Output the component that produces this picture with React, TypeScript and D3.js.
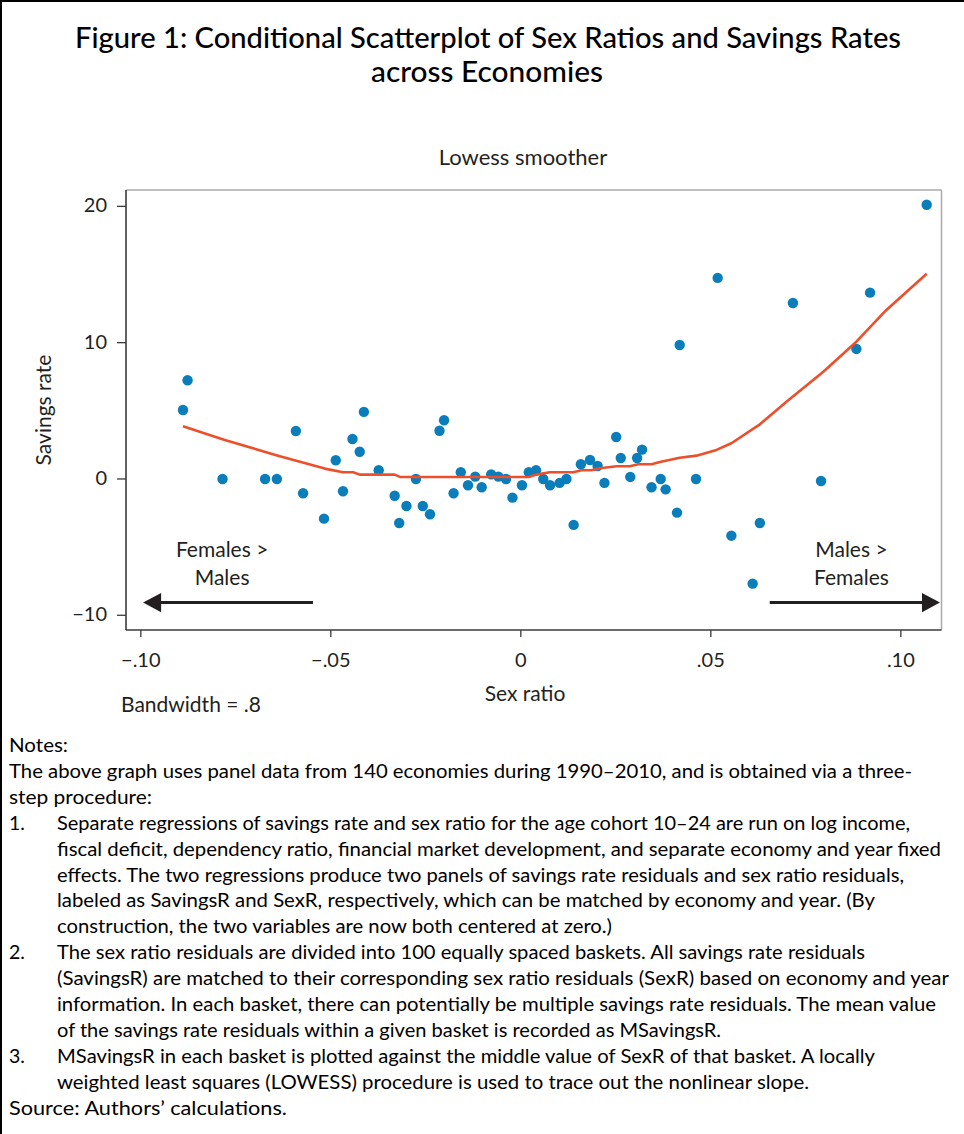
import React from 'react';
import * as d3 from 'd3';

const W = 964;
const H = 1134;

// Scatter data (sex ratio residual basket midpoint, mean savings rate residual)
const sexRatio = [
  -0.0877, -0.0889, -0.0785, -0.0673, -0.0642, -0.0592, -0.0573, -0.0518, -0.0487, -0.0468,
  -0.0443, -0.0424, -0.0413, -0.0374, -0.0332, -0.0320, -0.0301, -0.0276, -0.0258, -0.0239,
  -0.0214, -0.0202, -0.0177, -0.0158, -0.0139, -0.0120, -0.0103, -0.0078, -0.0059, -0.0039,
  -0.0022, 0.0003, 0.0021, 0.0040, 0.0059, 0.0077, 0.0102, 0.0120, 0.0139, 0.0158,
  0.0182, 0.0202, 0.0220, 0.0251, 0.0263, 0.0288, 0.0306, 0.0319, 0.0344, 0.0368,
  0.0381, 0.0411, 0.0418, 0.0461, 0.0518, 0.0554, 0.0610, 0.0629, 0.0716, 0.0790,
  0.0883, 0.0919, 0.1068,
];
const savingsRate = [
  7.24, 5.06, 0.0, 0.0, 0.0, 3.52, -1.05, -2.91, 1.37, -0.90,
  2.93, 2.0, 4.92, 0.64, -1.23, -3.23, -1.98, 0.0, -1.98, -2.59,
  3.54, 4.31, -1.05, 0.49, -0.46, 0.17, -0.61, 0.34, 0.17, 0.0,
  -1.37, -0.46, 0.49, 0.64, 0.0, -0.46, -0.29, 0.0, -3.37, 1.08,
  1.39, 0.95, -0.29, 3.08, 1.54, 0.15, 1.54, 2.15, -0.61, 0.0,
  -0.76, -2.47, 9.83, 0.0, 14.75, -4.16, -7.68, -3.23, 12.91, -0.15,
  9.54, 13.67, 20.12,
];

// Lowess smoother
const lowessX = [
  -0.0889, -0.0779, -0.0639, -0.0516, -0.0468, -0.0441, -0.0424, -0.0332, -0.0318, 0.0021,
  0.0041, 0.0076, 0.0138, 0.0160, 0.0186, 0.0208, 0.0252, 0.0287, 0.0309, 0.0344,
  0.0366, 0.0418, 0.0462, 0.0515, 0.0554, 0.0629, 0.0699, 0.0796, 0.0883, 0.0962, 0.1068,
];
const lowessY = [
  3.87, 2.86, 1.71, 0.76, 0.49, 0.49, 0.32, 0.32, 0.15, 0.15,
  0.32, 0.49, 0.49, 0.64, 0.64, 0.79, 0.93, 0.93, 1.08, 1.08,
  1.25, 1.56, 1.71, 2.13, 2.62, 4.01, 5.67, 7.87, 10.07, 12.4, 15.06,
];

const xTicks = [-0.1, -0.05, 0, 0.05, 0.1];
const xTickLabels = ['\u2212.10', '\u2212.05', '0', '.05', '.10'];
const yTicks = [-10, 0, 10, 20];
const yTickLabels = ['\u221210', '0', '10', '20'];

const titleLines = [
  'Figure 1: Conditional Scatterplot of Sex Ratios and Savings Rates',
  'across Economies',
];
const subtitle = 'Lowess smoother';
const xLabel = 'Sex ratio';
const yLabel = 'Savings rate';
const bandwidthNote = 'Bandwidth = .8';
const leftNote = ['Females >', 'Males'];
const rightNote = ['Males >', 'Females'];

// Notes: [bullet, text]
const notesLines: [string, string][] = [
  ['', 'Notes:'],
  ['', 'The above graph uses panel data from 140 economies during 1990\u20132010, and is obtained via a three-'],
  ['', 'step procedure:'],
  ['1.', 'Separate regressions of savings rate and sex ratio for the age cohort 10\u201324 are run on log income,'],
  ['-', 'fiscal deficit, dependency ratio, financial market development, and separate economy and year fixed'],
  ['-', 'effects. The two regressions produce two panels of savings rate residuals and sex ratio residuals,'],
  ['-', 'labeled as SavingsR and SexR, respectively, which can be matched by economy and year. (By'],
  ['-', 'construction, the two variables are now both centered at zero.)'],
  ['2.', 'The sex ratio residuals are divided into 100 equally spaced baskets. All savings rate residuals'],
  ['-', '(SavingsR) are matched to their corresponding sex ratio residuals (SexR) based on economy and year'],
  ['-', 'information. In each basket, there can potentially be multiple savings rate residuals. The mean value'],
  ['-', 'of the savings rate residuals within a given basket is recorded as MSavingsR.'],
  ['3.', 'MSavingsR in each basket is plotted against the middle value of SexR of that basket. A locally'],
  ['-', 'weighted least squares (LOWESS) procedure is used to trace out the nonlinear slope.'],
  ['', 'Source: Authors\u2019 calculations.'],
];
// right edge of each notes line (px)
const notesRight = [68, 912, 152, 910, 941, 904, 875, 612, 865, 949, 936, 721, 875, 809, 287];

const FONT = 'Lato, "Noto Sans", sans-serif';
const INK = '#231f20';

export default function App() {
  const plot = { left: 126, right: 941.5, top: 190, bottom: 630 };
  const x = d3.scaleLinear().domain([-0.1039, 0.1107]).range([plot.left, plot.right]);
  const y = d3.scaleLinear().domain([-11.08, 21.2]).range([plot.bottom, plot.top]);

  const line = d3
    .line<number>()
    .x((_, i) => x(lowessX[i]))
    .y((_, i) => y(lowessY[i]));

  const arrowY = y(-9.07);
  const leftArrow = { from: x(-0.0547), to: x(-0.0994) };
  const rightArrow = { from: x(0.0655), to: x(0.1103) };
  const headLen = 18;
  const headHalf = 9.7;

  return (
    <div style={{ position: 'absolute', left: 0, top: 0, width: W, height: H, background: '#fff' }}>
      <svg width={W} height={H} style={{ display: 'block' }} fontFamily={FONT}>
        <rect x={0} y={0} width={W} height={H} fill="#fff" />
        {/* page border */}
        <line x1={0} y1={1} x2={W} y2={1} stroke="#000" strokeWidth={2} />
        <line x1={1} y1={0} x2={1} y2={H} stroke="#000" strokeWidth={2} />

        {/* title */}
        <text x={75} y={48} fontSize={29} fontWeight={500} fill="#000" textLength={826} lengthAdjust="spacingAndGlyphs">
          {titleLines[0]}
        </text>
        <text x={371} y={82} fontSize={29} fontWeight={500} fill="#000" textLength={232} lengthAdjust="spacingAndGlyphs">
          {titleLines[1]}
        </text>

        {/* subtitle */}
        <text x={523} y={165} fontSize={22} fill={INK} textAnchor="middle">
          {subtitle}
        </text>

        {/* frame */}
        <line x1={plot.left} y1={plot.top} x2={plot.right} y2={plot.top} stroke="#aaa" strokeWidth={1.5} />
        <line x1={plot.right} y1={plot.top} x2={plot.right} y2={plot.bottom} stroke="#aaa" strokeWidth={1.5} />
        <line x1={plot.left} y1={plot.top} x2={plot.left} y2={plot.bottom} stroke="#3a3a3a" strokeWidth={1.6} />
        <line x1={plot.left} y1={plot.bottom} x2={plot.right} y2={plot.bottom} stroke="#3a3a3a" strokeWidth={1.6} />

        {/* y axis ticks */}
        {yTicks.map((t, i) => (
          <g key={'y' + t}>
            <line x1={plot.left - 9} x2={plot.left} y1={y(t)} y2={y(t)} stroke="#3a3a3a" strokeWidth={1.3} />
            <text x={107} y={y(t) + 6} fontSize={20} fill={INK} textAnchor="end">
              {yTickLabels[i]}
            </text>
          </g>
        ))}
        {/* x axis ticks */}
        {xTicks.map((t, i) => (
          <g key={'x' + t}>
            <line x1={x(t)} x2={x(t)} y1={plot.bottom} y2={plot.bottom + 7} stroke="#3a3a3a" strokeWidth={1.3} />
            <text x={x(t)} y={667} fontSize={20} fill={INK} textAnchor="middle">
              {xTickLabels[i]}
            </text>
          </g>
        ))}

        {/* axis titles */}
        <text
          transform={`translate(51, 410) rotate(-90)`}
          fontSize={21}
          fill={INK}
          textAnchor="middle"
        >
          {yLabel}
        </text>
        <text x={525} y={701} fontSize={21} fill={INK} textAnchor="middle">
          {xLabel}
        </text>
        <text x={121} y={712} fontSize={21} fill={INK}>
          {bandwidthNote}
        </text>

        {/* points */}
        {sexRatio.map((v, i) => (
          <circle key={i} cx={x(v)} cy={y(savingsRate[i])} r={5.2} fill="#0a7dbb" />
        ))}

        {/* lowess line */}
        <path d={line(lowessX) || ''} fill="none" stroke="#ee4f2b" strokeWidth={2.6} strokeLinejoin="round" />

        {/* annotation arrows */}
        <line x1={leftArrow.from} x2={leftArrow.to + headLen - 1} y1={arrowY} y2={arrowY} stroke={INK} strokeWidth={3} />
        <path
          d={`M${leftArrow.to},${arrowY} L${leftArrow.to + headLen},${arrowY - headHalf} L${leftArrow.to + headLen},${arrowY + headHalf} Z`}
          fill={INK}
        />
        <line x1={rightArrow.from} x2={rightArrow.to - headLen + 1} y1={arrowY} y2={arrowY} stroke={INK} strokeWidth={3} />
        <path
          d={`M${rightArrow.to},${arrowY} L${rightArrow.to - headLen},${arrowY - headHalf} L${rightArrow.to - headLen},${arrowY + headHalf} Z`}
          fill={INK}
        />
        <text x={x(-0.0786)} y={y(-5.72)} fontSize={21} fill={INK} textAnchor="middle">
          {leftNote[0]}
        </text>
        <text x={x(-0.0786)} y={y(-7.78)} fontSize={21} fill={INK} textAnchor="middle">
          {leftNote[1]}
        </text>
        <text x={x(0.0870)} y={y(-5.72)} fontSize={21} fill={INK} textAnchor="middle">
          {rightNote[0]}
        </text>
        <text x={x(0.0870)} y={y(-7.78)} fontSize={21} fill={INK} textAnchor="middle">
          {rightNote[1]}
        </text>

        {/* notes */}
        {notesLines.map(([bullet, txt], i) => {
          const baseY = 752 + i * 25.9;
          const indented = bullet !== '';
          const tx = indented ? 57 : 9;
          return (
            <g key={'n' + i}>
              {bullet && bullet !== '-' ? (
                <text x={9} y={baseY} fontSize={19.5} fill="#000">
                  {bullet}
                </text>
              ) : null}
              <text
                x={tx}
                y={baseY}
                fontSize={19.5}
                fill="#000"
                textLength={notesRight[i] - tx}
                lengthAdjust="spacingAndGlyphs"
              >
                {txt}
              </text>
            </g>
          );
        })}
      </svg>
    </div>
  );
}
